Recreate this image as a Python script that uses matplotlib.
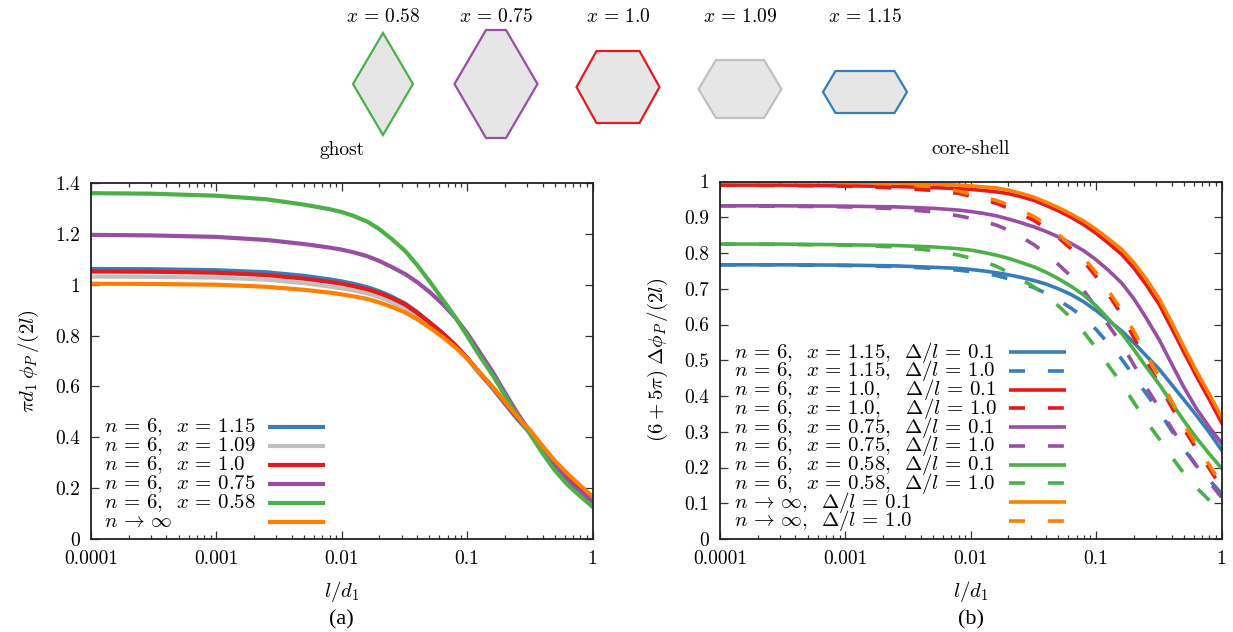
import numpy as np
import matplotlib
matplotlib.use('Agg')
import matplotlib.pyplot as plt
from matplotlib.patches import Polygon
from matplotlib.ticker import LogLocator, NullFormatter

plt.rcParams['font.family'] = 'cmr10'
plt.rcParams['mathtext.fontset'] = 'cm'
plt.rcParams['axes.formatter.use_mathtext'] = True
plt.rcParams['lines.scale_dashes'] = False

blue, red, purple, green, orange, gray = '#377eb8', '#e41a1c', '#984ea3', '#4daf4a', '#ff7f00', '#c0c0c0'

# %% sample points in l/d1 (shared by both panels)
x_l = [0.0001, 0.0003, 0.001, 0.0025, 0.005, 0.008, 0.01, 0.0125, 0.016, 0.02, 0.025,
       0.032, 0.04, 0.05, 0.063, 0.08, 0.1, 0.125, 0.16, 0.2, 0.25, 0.32, 0.4, 0.5,
       0.63, 0.8, 1.0]

# %% left panel: ghost
ghost_115 = [1.062, 1.061, 1.057, 1.049, 1.035, 1.021, 1.013, 1.003, 0.99, 0.974, 0.953,
             0.926, 0.892, 0.853, 0.812, 0.763, 0.71, 0.652, 0.592, 0.532, 0.473, 0.415,
             0.357, 0.299, 0.244, 0.194, 0.151]
ghost_109 = [1.032, 1.031, 1.028, 1.02, 1.006, 0.993, 0.986, 0.977, 0.966, 0.951, 0.932,
             0.907, 0.876, 0.842, 0.803, 0.758, 0.71, 0.655, 0.597, 0.539, 0.48, 0.422,
             0.364, 0.306, 0.252, 0.203, 0.16]
ghost_100 = [1.052, 1.051, 1.047, 1.038, 1.024, 1.011, 1.004, 0.994, 0.982, 0.967, 0.948,
             0.922, 0.889, 0.852, 0.811, 0.764, 0.713, 0.656, 0.597, 0.538, 0.479, 0.42,
             0.361, 0.302, 0.247, 0.197, 0.155]
ghost_075 = [1.196, 1.194, 1.188, 1.176, 1.16, 1.146, 1.138, 1.127, 1.112, 1.093, 1.07,
             1.042, 1.01, 0.972, 0.927, 0.872, 0.81, 0.737, 0.657, 0.576, 0.497, 0.42,
             0.35, 0.285, 0.23, 0.185, 0.147]
ghost_058 = [1.36, 1.358, 1.35, 1.336, 1.315, 1.297, 1.286, 1.27, 1.248, 1.218, 1.18,
             1.133, 1.077, 1.014, 0.946, 0.874, 0.799, 0.722, 0.644, 0.565, 0.487, 0.41,
             0.337, 0.27, 0.214, 0.168, 0.127]
ghost_inf = [1.004, 1.003, 1.0, 0.992, 0.98, 0.969, 0.962, 0.954, 0.944, 0.93, 0.913,
             0.891, 0.864, 0.832, 0.796, 0.755, 0.71, 0.656, 0.598, 0.54, 0.483, 0.426,
             0.365, 0.308, 0.257, 0.21, 0.167]

ghost_series = [ghost_115, ghost_109, ghost_100, ghost_075, ghost_058, ghost_inf]
ghost_colors = [blue, gray, red, purple, green, orange]
ghost_labels = [r'$n\,=\,6,\;\;x\,=\,1.15$', r'$n\,=\,6,\;\;x\,=\,1.09$',
                r'$n\,=\,6,\;\;x\,=\,1.0$', r'$n\,=\,6,\;\;x\,=\,0.75$',
                r'$n\,=\,6,\;\;x\,=\,0.58$', r'$n\,\rightarrow\,\infty$']

# %% right panel: core-shell (solid: Delta/l = 0.1, dashed: Delta/l = 1.0)
cs_115_01 = [0.767, 0.767, 0.766, 0.764, 0.76, 0.757, 0.754, 0.75, 0.745, 0.739, 0.732,
             0.723, 0.713, 0.7, 0.684, 0.663, 0.639, 0.612, 0.582, 0.549, 0.513, 0.474,
             0.432, 0.39, 0.346, 0.298, 0.249]
cs_115_10 = [0.767, 0.767, 0.765, 0.762, 0.757, 0.752, 0.748, 0.743, 0.737, 0.728, 0.716,
             0.703, 0.687, 0.668, 0.646, 0.619, 0.586, 0.547, 0.503, 0.456, 0.407, 0.356,
             0.303, 0.252, 0.205, 0.165, 0.127]
cs_100_01 = [0.99, 0.99, 0.988, 0.986, 0.983, 0.98, 0.978, 0.975, 0.971, 0.966, 0.958,
             0.947, 0.933, 0.918, 0.9, 0.879, 0.855, 0.828, 0.796, 0.758, 0.712, 0.655,
             0.59, 0.523, 0.456, 0.39, 0.326]
cs_100_10 = [0.99, 0.989, 0.987, 0.982, 0.975, 0.967, 0.959, 0.95, 0.939, 0.925, 0.909,
             0.891, 0.869, 0.843, 0.812, 0.776, 0.734, 0.685, 0.627, 0.563, 0.497, 0.432,
             0.369, 0.309, 0.252, 0.197, 0.143]
cs_075_01 = [0.932, 0.932, 0.931, 0.929, 0.925, 0.92, 0.916, 0.911, 0.904, 0.895, 0.885,
             0.873, 0.86, 0.845, 0.827, 0.806, 0.781, 0.752, 0.716, 0.672, 0.619, 0.556,
             0.49, 0.425, 0.365, 0.313, 0.268]
cs_075_10 = [0.932, 0.931, 0.929, 0.924, 0.915, 0.904, 0.897, 0.889, 0.878, 0.864, 0.846,
             0.823, 0.797, 0.768, 0.735, 0.694, 0.648, 0.599, 0.545, 0.487, 0.425, 0.366,
             0.31, 0.256, 0.205, 0.159, 0.117]
cs_058_01 = [0.825, 0.825, 0.823, 0.821, 0.817, 0.812, 0.808, 0.802, 0.794, 0.785, 0.774,
             0.761, 0.746, 0.728, 0.707, 0.682, 0.652, 0.616, 0.575, 0.53, 0.482, 0.432,
             0.381, 0.331, 0.283, 0.238, 0.198]
cs_058_10 = [0.825, 0.824, 0.822, 0.817, 0.807, 0.794, 0.786, 0.776, 0.763, 0.746, 0.727,
             0.705, 0.68, 0.652, 0.619, 0.578, 0.534, 0.486, 0.435, 0.382, 0.33, 0.279,
             0.23, 0.184, 0.144, 0.108, 0.075]
cs_inf_01 = [1.0, 1.0, 0.998, 0.996, 0.993, 0.99, 0.988, 0.985, 0.982, 0.976, 0.967,
             0.956, 0.942, 0.927, 0.909, 0.889, 0.866, 0.84, 0.81, 0.773, 0.728, 0.671,
             0.606, 0.538, 0.47, 0.405, 0.341]
cs_inf_10 = [1.0, 0.999, 0.997, 0.993, 0.985, 0.973, 0.965, 0.957, 0.947, 0.935, 0.92,
             0.902, 0.879, 0.852, 0.821, 0.786, 0.745, 0.695, 0.64, 0.581, 0.518, 0.453,
             0.386, 0.322, 0.263, 0.207, 0.152]

cs_series = [cs_115_01, cs_115_10, cs_100_01, cs_100_10, cs_075_01, cs_075_10,
             cs_058_01, cs_058_10, cs_inf_01, cs_inf_10]
cs_colors = [blue, blue, red, red, purple, purple, green, green, orange, orange]
cs_dashed = [False, True] * 5
cs_labels = [r'$n\,=\,6,\;\;x\,=\,1.15,\;\;\Delta/l\,=\,0.1$',
             r'$n\,=\,6,\;\;x\,=\,1.15,\;\;\Delta/l\,=\,1.0$',
             r'$n\,=\,6,\;\;x\,=\,1.0,\;\;\ \ \Delta/l\,=\,0.1$',
             r'$n\,=\,6,\;\;x\,=\,1.0,\;\;\ \ \Delta/l\,=\,1.0$',
             r'$n\,=\,6,\;\;x\,=\,0.75,\;\;\Delta/l\,=\,0.1$',
             r'$n\,=\,6,\;\;x\,=\,0.75,\;\;\Delta/l\,=\,1.0$',
             r'$n\,=\,6,\;\;x\,=\,0.58,\;\;\Delta/l\,=\,0.1$',
             r'$n\,=\,6,\;\;x\,=\,0.58,\;\;\Delta/l\,=\,1.0$',
             r'$n\,\rightarrow\,\infty,\;\;\Delta/l\,=\,0.1$',
             r'$n\,\rightarrow\,\infty,\;\;\Delta/l\,=\,1.0$']

# %% particle shapes on top (pixel units)
shape_x = ['0.58', '0.75', '1.0', '1.09', '1.15']
shape_cx = [383, 496, 618, 740, 865]
shape_cy = [84, 84, 87, 89, 92]
shape_hw = [30, 41.5, 41.5, 41.5, 42]
shape_hh = [51, 54, 36, 29, 21]
shape_edge = [0, 10, 21.5, 24, 29.5]
shape_colors = [green, purple, red, gray, blue]

dash = (0, (11.5, 16.5))


def style_axes(ax, yticks, ylabels, ymax):
    ax.set_xscale('log')
    ax.set_xlim(1e-4, 1)
    ax.set_ylim(0, ymax)
    ax.set_xticks([1e-4, 1e-3, 1e-2, 1e-1, 1])
    ax.set_xticklabels(['0.0001', '0.001', '0.01', '0.1', '1'])
    ax.xaxis.set_minor_locator(LogLocator(base=10, subs=np.arange(2, 10), numticks=20))
    ax.xaxis.set_minor_formatter(NullFormatter())
    ax.set_yticks(yticks)
    ax.set_yticklabels(ylabels)
    ax.tick_params(which='both', direction='in', top=True, right=True,
                   labelsize=14, width=0.9, color='#333333')
    ax.tick_params(which='major', length=5.5, pad=8)
    ax.tick_params(which='minor', length=2.8)
    for s in ax.spines.values():
        s.set_linewidth(1.3)
        s.set_color('#222222')
    ax.set_xlabel(r'$l/d_1$', fontsize=15, labelpad=8)


def draw_key(ax, labels, colors, dashed, x_text, x0, x1, y_top, dy, lw):
    for i, (lab, c, d) in enumerate(zip(labels, colors, dashed)):
        y = y_top - i * dy
        ax.text(x_text, y, lab, transform=ax.transAxes, ha='left', va='center', fontsize=15)
        ax.plot([x0, x1], [y, y], transform=ax.transAxes, color=c, lw=lw,
                ls=dash if d else '-', solid_capstyle='butt', dash_capstyle='butt')


fig = plt.figure(figsize=(12.33, 6.32), dpi=100)

# %%
ax1 = fig.add_axes([91 / 1233, 93 / 632, 501.5 / 1233, 356 / 632])
for y, c in zip(ghost_series, ghost_colors):
    ax1.plot(x_l, y, color=c, lw=3.0)
style_axes(ax1, np.arange(0, 1.41, 0.2), ['0', '0.2', '0.4', '0.6', '0.8', '1', '1.2', '1.4'], 1.4)
ax1.set_ylabel(r'$\pi d_1\,\phi_P\,/(2l)$', fontsize=15, labelpad=10)
ax1.text(0.5, 1.093, 'ghost', transform=ax1.transAxes, ha='center', va='center', fontsize=14)
draw_key(ax1, ghost_labels, ghost_colors, [False] * 6, 0.026, 0.352, 0.466, 0.3155, 0.0534, 3.0)
fig.text(341.7 / 1233, 1 - 620 / 632, '(a)', family='Liberation Serif', fontsize=16,
         ha='center', va='center')

# %%
ax2 = fig.add_axes([720 / 1233, 93 / 632, 501.5 / 1233, 357.5 / 632])
for y, c, d in zip(cs_series, cs_colors, cs_dashed):
    ax2.plot(x_l, y, color=c, lw=2.6, ls=dash if d else '-', dash_capstyle='butt')
style_axes(ax2, np.arange(0, 1.01, 0.1),
           ['0', '0.1', '0.2', '0.3', '0.4', '0.5', '0.6', '0.7', '0.8', '0.9', '1'], 1.0)
ax2.set_ylabel(r'$(6+5\pi)\;\Delta\phi_P\,/(2l)$', fontsize=15, labelpad=10)
ax2.text(0.5, 1.09, 'core-shell', transform=ax2.transAxes, ha='center', va='center', fontsize=14)
draw_key(ax2, cs_labels, cs_colors, cs_dashed, 0.027, 0.5755, 0.69, 0.523, 0.0525, 2.6)
fig.text(970.7 / 1233, 1 - 620 / 632, '(b)', family='Liberation Serif', fontsize=16,
         ha='center', va='center')

# %% shapes
ax0 = fig.add_axes([0, 1 - 160 / 632, 1, 160 / 632])
ax0.set_xlim(0, 1233)
ax0.set_ylim(160, 0)
ax0.axis('off')
for lab, cx, cy, hw, hh, e, c in zip(shape_x, shape_cx, shape_cy, shape_hw, shape_hh,
                                     shape_edge, shape_colors):
    verts = [(cx - e, cy - hh), (cx + e, cy - hh), (cx + hw, cy),
             (cx + e, cy + hh), (cx - e, cy + hh), (cx - hw, cy)]
    ax0.add_patch(Polygon(verts, closed=True, facecolor='#e6e6e6', edgecolor=c, lw=1.6))
    ax0.text(cx, 17, r'$x\,=\,' + lab + '$', ha='center', va='center', fontsize=14)

fig.savefig('out.png', dpi=100)
